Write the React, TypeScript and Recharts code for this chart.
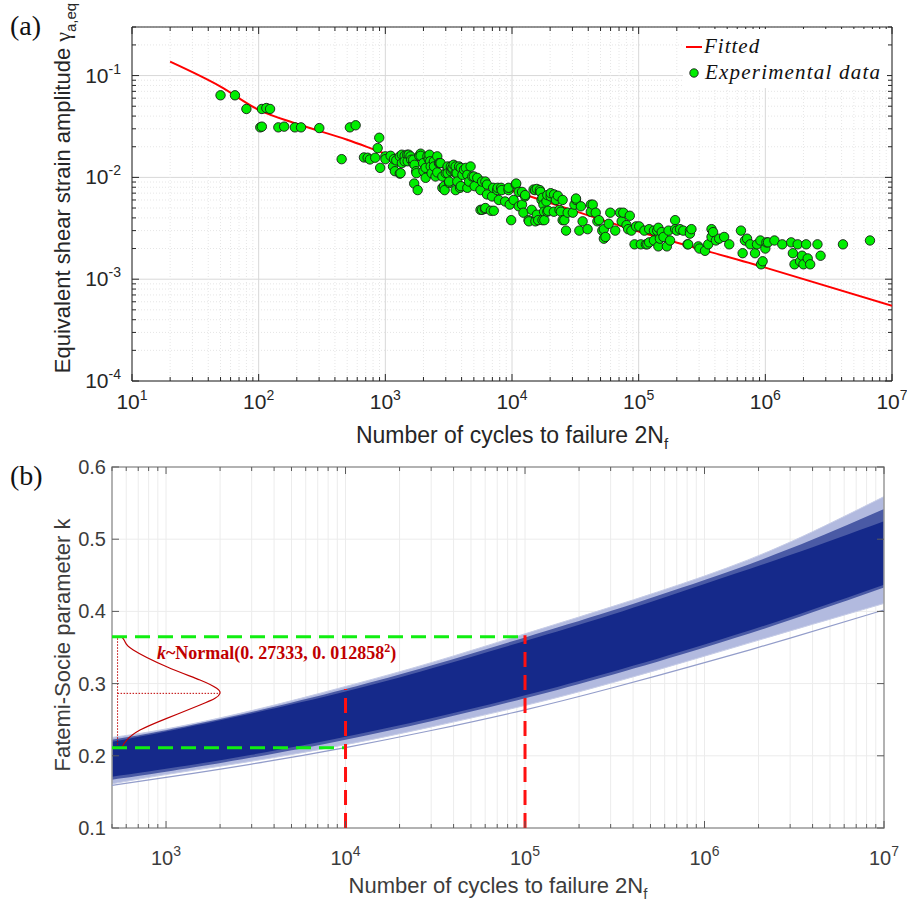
import React from "react";
import {
  ComposedChart, Scatter, Line, Area, XAxis, YAxis, CartesianGrid, ReferenceArea,
} from "recharts";

// ---------- panel (a): strain-life data ----------
const fittedN = [20, 50, 100, 200, 500, 1e3, 1e4, 1e5, 1e6, 1e7];
const fittedGamma = [0.137, 0.078, 0.0461, 0.0336, 0.0234, 0.0171, 0.0074, 0.00294, 0.0013, 0.000547];

// [2Nf, gamma_a,eq]
const experimental: [number, number][] = [
  [50, 0.064], [65, 0.064], [80, 0.047], [103, 0.031], [106, 0.0315], [106, 0.047], [115, 0.048], [123, 0.047],
  [143, 0.031], [159, 0.0315], [193, 0.031], [216, 0.031], [301, 0.0305], [452, 0.0151], [525, 0.031], [583, 0.0325],
  [678, 0.0157], [725, 0.0156], [756, 0.015], [832, 0.0156], [870, 0.0194], [895, 0.0245], [910, 0.0124],
  [1000, 0.0161], [1002, 0.0151], [1100, 0.0163], [1150, 0.0128], [1170, 0.0151], [1190, 0.0115], [1220, 0.0147],
  [1300, 0.0161], [1300, 0.0109], [1320, 0.011], [1350, 0.0138], [1350, 0.0167], [1420, 0.0163], [1420, 0.0144],
  [1490, 0.0167], [1500, 0.0144], [1530, 0.0167], [1580, 0.0161], [1600, 0.0149], [1660, 0.0138], [1660, 0.0149],
  [1690, 0.0087], [1700, 0.0133], [1750, 0.0115], [1760, 0.011], [1800, 0.0075], [1850, 0.0163], [1900, 0.0171],
  [1900, 0.0163], [1990, 0.0138], [2000, 0.0115], [2080, 0.0124], [2080, 0.0099], [2150, 0.0161], [2200, 0.0151],
  [2230, 0.0167], [2260, 0.0144], [2280, 0.0128], [2320, 0.011], [2420, 0.0144], [2420, 0.0128], [2490, 0.0102],
  [2570, 0.0161], [2570, 0.0112], [2650, 0.0138], [2690, 0.0138], [2730, 0.0138], [2820, 0.0102], [2820, 0.0079],
  [2910, 0.0082], [2940, 0.0075], [3000, 0.011], [3100, 0.0124], [3100, 0.0128], [3100, 0.011], [3190, 0.0088],
  [3190, 0.0091], [3290, 0.0115], [3290, 0.0128], [3390, 0.0119], [3390, 0.0124], [3460, 0.0133], [3590, 0.011],
  [3590, 0.0075], [3590, 0.0128], [3660, 0.011], [3700, 0.0091], [3820, 0.0128], [3890, 0.0079], [3940, 0.0082],
  [3940, 0.0124], [4060, 0.0106], [4180, 0.0119], [4320, 0.0124], [4440, 0.0079], [4440, 0.0106],
  [4580, 0.0091], [4710, 0.0128], [4860, 0.0102], [5000, 0.0102], [5070, 0.0082], [5320, 0.0099], [5640, 0.0075],
  [5640, 0.0048], [5800, 0.0091], [5810, 0.0048], [6100, 0.0049], [6160, 0.0091], [6160, 0.005], [6350, 0.0068],
  [6350, 0.0085], [6810, 0.0047], [6960, 0.0065], [7100, 0.0079], [7180, 0.0047], [7640, 0.0075], [7700, 0.0079],
  [7870, 0.006], [8200, 0.0079], [8300, 0.0075], [8820, 0.0058], [9390, 0.0075], [9400, 0.0079], [9600, 0.0054],
  [9850, 0.0038], [10300, 0.006], [10700, 0.0085], [10800, 0.0087], [11300, 0.0072], [11300, 0.0052], [12000, 0.0054],
  [12000, 0.0072], [12300, 0.0045], [12700, 0.0065], [12700, 0.0067], [13500, 0.0038], [13600, 0.0037], [14300, 0.0048],
  [14800, 0.0076], [15200, 0.0075], [15300, 0.0037], [15700, 0.0043], [15700, 0.0077], [16100, 0.0038], [16600, 0.0075],
  [16800, 0.0072], [17100, 0.006], [17400, 0.0063], [17400, 0.0038], [17700, 0.0054], [17900, 0.0046], [18000, 0.0038],
  [18700, 0.0058], [19000, 0.0067], [19000, 0.0046], [19300, 0.0047],
  [20200, 0.0065], [20200, 0.007], [21400, 0.0046], [21500, 0.0068], [22200, 0.006], [23000, 0.0066], [23700, 0.0048],
  [24300, 0.0046], [25100, 0.006], [25100, 0.0038], [25900, 0.0038], [26700, 0.003], [27500, 0.0045], [30200, 0.0045],
  [31100, 0.0054], [32000, 0.006], [32000, 0.0062], [34000, 0.003], [35000, 0.0052], [36100, 0.0037], [39500, 0.0031],
  [41900, 0.0054], [41900, 0.0046], [43400, 0.0054], [45800, 0.0045], [47200, 0.0037], [48600, 0.0038], [51600, 0.003],
  [53100, 0.0031], [53100, 0.0025], [54700, 0.0026], [58000, 0.0035], [59700, 0.0045], [65300, 0.003], [71300, 0.0045],
  [73400, 0.0037], [75600, 0.0045], [80200, 0.0034], [82600, 0.0031], [85100, 0.0042], [87600, 0.003], [92800, 0.0022],
  [95500, 0.0033],
  [101000, 0.0033], [104000, 0.0022], [111000, 0.003], [114000, 0.0022], [117000, 0.0022], [121000, 0.0031],
  [121000, 0.0023], [132000, 0.003], [132000, 0.0024], [140000, 0.003], [143000, 0.0021], [143000, 0.0032],
  [147000, 0.0025], [152000, 0.0029], [157000, 0.0026], [167000, 0.0021], [172000, 0.003], [177000, 0.0024],
  [194000, 0.0038], [194000, 0.0031], [200000, 0.003], [212000, 0.0031], [225000, 0.003], [243000, 0.0022],
  [246000, 0.0022], [254000, 0.003], [254000, 0.0028], [261000, 0.0031], [296000, 0.0021], [302000, 0.002],
  [334000, 0.0019], [354000, 0.0022], [376000, 0.0031], [376000, 0.0026], [387000, 0.0029], [407000, 0.0024],
  [432000, 0.0025], [473000, 0.0026], [519000, 0.0022], [642000, 0.003], [662000, 0.0018], [690000, 0.0024],
  [717000, 0.0025], [761000, 0.0022], [829000, 0.0018], [859000, 0.0022], [914000, 0.0024], [925000, 0.0014],
  [952000, 0.0015], [1000000, 0.002], [1020000, 0.0023], [1050000, 0.0023], [1180000, 0.0024], [1360000, 0.0022],
  [1600000, 0.0023], [1650000, 0.0018], [1700000, 0.0014], [1800000, 0.0022], [1880000, 0.0015], [1950000, 0.0017],
  [2000000, 0.0014], [2100000, 0.0022], [2160000, 0.0016], [2260000, 0.0014], [2580000, 0.0022], [2730000, 0.0017],
  [4100000, 0.0022], [6700000, 0.0024],
];

const aXMajors = [1e1, 1e2, 1e3, 1e4, 1e5, 1e6, 1e7];
const aYMajors = [1e-4, 1e-3, 1e-2, 1e-1];
const minorSteps = [2, 3, 4, 5, 6, 7, 8, 9];

// ---------- panel (b): simulated k curves ----------
const bandN = [500, 1e3, 3e3, 1e4, 3e4, 1e5, 3e5, 1e6, 3e6, 1e7];
const kUpperLight = [0.2254, 0.2372, 0.2626, 0.296, 0.329, 0.369, 0.406, 0.449, 0.496, 0.559];
const kUpperMid = [0.2224, 0.2355, 0.2606, 0.2925, 0.325, 0.364, 0.4005, 0.4435, 0.487, 0.542];
const kUpperDense = [0.2194, 0.2337, 0.2586, 0.289, 0.321, 0.359, 0.395, 0.438, 0.478, 0.525];
const kLowerDense = [0.171, 0.182, 0.2015, 0.2264, 0.252, 0.2837, 0.3156, 0.354, 0.392, 0.437];
const kLowerLight = [0.161, 0.174, 0.1925, 0.2154, 0.24, 0.2697, 0.3006, 0.338, 0.373, 0.411];
const kLowest = [0.159, 0.17, 0.1885, 0.2114, 0.235, 0.2637, 0.2936, 0.329, 0.363, 0.402];

const bXMajors = [1e2, 1e3, 1e4, 1e5, 1e6, 1e7];
const bYTicks = [0.1, 0.2, 0.3, 0.4, 0.5, 0.6];

// normal pdf sketch, [2Nf position, k]
const pdfCurve: [number, number][] = [
  [566, 0.365], [591, 0.358], [657, 0.3466], [1009, 0.3234], [1546, 0.305], [1915, 0.2935], [1998, 0.2865],
  [1875, 0.2796], [1546, 0.2703], [1009, 0.2519], [716, 0.2356], [604, 0.2217], [566, 0.2111],
];
const pdfStem: [number, number][] = [[537, 0.2111], [537, 0.365]];
const pdfPeak: [number, number][] = [[537, 0.2865], [1998, 0.2865]];
const greenUpper: [number, number][] = [[500, 0.365], [1e5, 0.365]];
const greenLower: [number, number][] = [[500, 0.211], [1e4, 0.211]];
const red1e4: [number, number][] = [[1e4, 0.1], [1e4, 0.2925]];
const red1e5: [number, number][] = [[1e5, 0.1], [1e5, 0.367]];

// ---------- helpers ----------
const SANS = "Liberation Sans, Arial, sans-serif";
const SERIF = "Liberation Serif, Times New Roman, serif";
const INK = "#262626";
const GRAY = "#3c3c3c";

const isPow10 = (v: number) => Math.abs(Math.log10(v) - Math.round(Math.log10(v))) < 1e-6;
const expOf = (v: number) => String(Math.round(Math.log10(v)));
const logTicks = (majors: number[], lo: number, hi: number) => {
  const out: number[] = [];
  majors.forEach((m) => {
    out.push(m);
    minorSteps.forEach((s) => out.push(m * s));
  });
  return out.filter((v) => v >= lo * 0.9999 && v <= hi * 1.0001);
};
const toRows = (pts: [number, number][], key: string) => pts.map(([n, v]) => ({ n, [key]: v }));

const aXTicks = logTicks(aXMajors, 10, 1e7);
const aYTicks = logTicks(aYMajors, 1e-4, 0.3);
const bXTicks = logTicks(bXMajors, 500, 1e7);

const expRows = toRows(experimental, "g");
const fittedRows = fittedN.map((n, i) => ({ n, g: fittedGamma[i] }));
const bandRows = bandN.map((n, i) => ({
  n,
  outer: [kLowerLight[i], kUpperLight[i]],
  mid: [kLowerDense[i] - 0.004, kUpperMid[i]],
  core: [kLowerDense[i], kUpperDense[i]],
  lowest: kLowest[i],
}));

// plot boxes in chart coordinates
const A = { left: 132, right: 892, top: 27, bottom: 381 };
const B = { left: 112, right: 884, top: 27, bottom: 388 };

function AXTick(p: any) {
  const v = p.payload.value;
  const major = isPow10(v);
  const len = major ? 7 : 4;
  return (
    <g>
      <line x1={p.x} x2={p.x} y1={A.bottom} y2={A.bottom - len} stroke={INK} />
      <line x1={p.x} x2={p.x} y1={A.top} y2={A.top + len} stroke={INK} />
      {major && (
        <text x={p.x} y={A.bottom + 28} textAnchor="middle" fontSize={21} fill={INK} fontFamily={SANS}>
          10<tspan dy={-9} fontSize={14}>{expOf(v)}</tspan>
        </text>
      )}
    </g>
  );
}

function AYTick(p: any) {
  const v = p.payload.value;
  const major = isPow10(v);
  const len = major ? 7 : 4;
  return (
    <g>
      <line x1={A.left} x2={A.left + len} y1={p.y} y2={p.y} stroke={INK} />
      <line x1={A.right} x2={A.right - len} y1={p.y} y2={p.y} stroke={INK} />
      {major && (
        <text x={A.left - 11} y={p.y + 7} textAnchor="end" fontSize={21} fill={INK} fontFamily={SANS}>
          10<tspan dy={-9} fontSize={14}>{expOf(v)}</tspan>
        </text>
      )}
    </g>
  );
}

function aGridV(p: any) {
  const lv = 1 + ((p.x1 - A.left) / (A.right - A.left)) * 6;
  const major = Math.abs(lv - Math.round(lv)) < 0.01;
  return (
    <line key={p.key} x1={p.x1} x2={p.x2} y1={p.y1} y2={p.y2}
      stroke={major ? "#d8d8d8" : "#e6e6e6"} strokeDasharray={major ? undefined : "1 2"} />
  );
}

function aGridH(p: any) {
  const top = Math.log10(0.3);
  const lv = top - ((p.y1 - A.top) / (A.bottom - A.top)) * (top + 4);
  const major = Math.abs(lv - Math.round(lv)) < 0.01;
  return (
    <line key={p.key} x1={p.x1} x2={p.x2} y1={p.y1} y2={p.y2}
      stroke={major ? "#d8d8d8" : "#e6e6e6"} strokeDasharray={major ? undefined : "1 2"} />
  );
}

function BXTick(p: any) {
  const v = p.payload.value;
  const major = isPow10(v);
  const len = major ? 7 : 4;
  return (
    <g>
      <line x1={p.x} x2={p.x} y1={B.bottom} y2={B.bottom - len} stroke="#5a5a5a" />
      <line x1={p.x} x2={p.x} y1={B.top} y2={B.top + len} stroke="#5a5a5a" />
      {major && (
        <text x={p.x} y={B.bottom + 37} textAnchor="middle" fontSize={20} fill={GRAY} fontFamily={SANS}>
          10<tspan dy={-9} fontSize={14}>{expOf(v)}</tspan>
        </text>
      )}
    </g>
  );
}

function BYTick(p: any) {
  const v = p.payload.value;
  return (
    <g>
      <line x1={B.left} x2={B.left + 7} y1={p.y} y2={p.y} stroke="#5a5a5a" />
      <line x1={B.right} x2={B.right - 7} y1={p.y} y2={p.y} stroke="#5a5a5a" />
      <text x={B.left - 6} y={p.y + 7} textAnchor="end" fontSize={20} fill={GRAY} fontFamily={SANS}>
        {v.toFixed(1)}
      </text>
    </g>
  );
}

function ExpDot(p: any) {
  return <circle cx={p.cx} cy={p.cy} r={4.7} fill="#00ee00" stroke="#1a1a1a" strokeWidth={0.9} />;
}

function PanelA() {
  return (
    <ComposedChart width={907} height={440} margin={{ top: 27, right: 15, bottom: 0, left: 0 }}>
      <CartesianGrid horizontal={aGridH} vertical={aGridV} />
      <XAxis dataKey="n" type="number" scale="log" domain={[10, 1e7]} allowDataOverflow ticks={aXTicks}
        interval={0} height={59} axisLine={false} tickLine={false} tickSize={0} tickMargin={0} tick={AXTick} />
      <YAxis dataKey="g" type="number" scale="log" domain={[1e-4, 0.3]} allowDataOverflow ticks={aYTicks}
        interval={0} width={132} axisLine={false} tickLine={false} tickSize={0} tickMargin={0} tick={AYTick} />
      <ReferenceArea x1={10} x2={1e7} y1={1e-4} y2={0.3} fill="none" stroke={INK} strokeWidth={1} ifOverflow="visible" />
      <Line data={fittedRows} dataKey="g" type="monotone" stroke="#ff0000" strokeWidth={2}
        dot={false} activeDot={false} isAnimationActive={false} />
      <Scatter data={expRows} dataKey="g" shape={ExpDot} isAnimationActive={false} />
    </ComposedChart>
  );
}

function PanelB() {
  const dashLine = (pts: [number, number][], color: string, dash: string, w: number, key: string) => (
    <Line key={key} data={toRows(pts, "k")} dataKey="k" type="linear" stroke={color} strokeWidth={w}
      strokeDasharray={dash} dot={false} activeDot={false} isAnimationActive={false} />
  );
  return (
    <ComposedChart width={907} height={461} margin={{ top: 27, right: 23, bottom: 0, left: 0 }}>
      <CartesianGrid stroke="#ececec" />
      <XAxis dataKey="n" type="number" scale="log" domain={[500, 1e7]} allowDataOverflow ticks={bXTicks}
        interval={0} height={73} axisLine={false} tickLine={false} tickSize={0} tickMargin={0} tick={BXTick} />
      <YAxis type="number" domain={[0.1, 0.6]} allowDataOverflow ticks={bYTicks} interval={0} width={112}
        axisLine={false} tickLine={false} tickSize={0} tickMargin={0} tick={BYTick} />
      <Area data={bandRows} dataKey="outer" type="natural" fill="#b2badf" fillOpacity={1} stroke="#c6cce7"
        strokeWidth={1} isAnimationActive={false} />
      <Area data={bandRows} dataKey="mid" type="natural" fill="#4a5aa5" fillOpacity={1} stroke="none"
        isAnimationActive={false} />
      <Area data={bandRows} dataKey="core" type="natural" fill="#15298a" fillOpacity={1} stroke="none"
        isAnimationActive={false} />
      <Line data={bandRows} dataKey="lowest" type="natural" stroke="#939dca" strokeWidth={1.2}
        dot={false} activeDot={false} isAnimationActive={false} />
      <Line data={toRows(pdfCurve, "k")} dataKey="k" type="natural" stroke="#c00000" strokeWidth={1.2}
        dot={false} activeDot={false} isAnimationActive={false} />
      {dashLine(pdfStem, "#c00000", "1.5 1.5", 1, "stem")}
      {dashLine(pdfPeak, "#c00000", "1.5 1.5", 1, "peak")}
      {dashLine(greenUpper, "#11ee11", "15 8", 3, "gu")}
      {dashLine(greenLower, "#11ee11", "15 8", 3, "gl")}
      {dashLine(red1e4, "#ff1010", "15 8", 3, "r4")}
      {dashLine(red1e5, "#ff1010", "15 8", 3, "r5")}
      <ReferenceArea x1={500} x2={1e7} y1={0.1} y2={0.6} fill="none" stroke="#9c9c9c" strokeWidth={1.5} ifOverflow="visible" />
    </ComposedChart>
  );
}

function Overlay() {
  return (
    <svg width={907} height={901} style={{ position: "absolute", left: 0, top: 0, pointerEvents: "none" }}>
      <text x={10} y={35} fontSize={28} fontFamily={SERIF} fill="#111">(a)</text>
      <text x={10} y={485} fontSize={28} fontFamily={SERIF} fill="#111">(b)</text>

      {/* panel (a) titles */}
      <text x={512} y={443} textAnchor="middle" fontSize={23} fontFamily={SANS} fill={INK}>
        Number of cycles to failure 2N<tspan dy={6} fontSize={15}>f</tspan>
      </text>
      <text x={70} y={188} transform="rotate(-90 70 188)" textAnchor="middle" fontSize={22} fontFamily={SANS} fill={INK}>
        Equivalent shear strain amplitude <tspan fontFamily={SERIF}>γ</tspan>
        <tspan dy={6} fontSize={15}>a,eq</tspan>
      </text>

      {/* legend */}
      <rect x={683} y={29} width={204} height={59} fill="#ffffff" />
      <line x1={686} x2={702} y1={47} y2={47} stroke="#ff0000" strokeWidth={2} />
      <text x={704} y={53} fontSize={21} fontStyle="italic" fontFamily={SERIF} letterSpacing={1} fill="#111">Fitted</text>
      <circle cx={694} cy={73} r={4.2} fill="#00ee00" stroke="#1a1a1a" strokeWidth={0.9} />
      <text x={705} y={79} fontSize={21} fontStyle="italic" fontFamily={SERIF} letterSpacing={1.2} fill="#111">
        Experimental data
      </text>

      {/* panel (b) titles */}
      <text x={498} y={893} textAnchor="middle" fontSize={22} fontFamily={SANS} fill={GRAY}>
        Number of cycles to failure 2N<tspan dy={6} fontSize={15}>f</tspan>
      </text>
      <text x={70} y={645} transform="rotate(-90 70 645)" textAnchor="middle" fontSize={22} fontFamily={SANS} fill={GRAY}>
        Fatemi-Socie parameter k
      </text>

      {/* distribution annotation */}
      <text x={157} y={659} fontSize={18} fontWeight="bold" fontFamily={SERIF} fill="#c00000">
        <tspan fontStyle="italic">k</tspan>~Normal(0. 27333, 0. 012858<tspan dy={-7} fontSize={12}>2</tspan>
        <tspan dy={7}>)</tspan>
      </text>
    </svg>
  );
}

export default function App() {
  return (
    <div style={{ position: "absolute", left: 0, top: 0, width: 907, height: 901, background: "#ffffff", overflow: "hidden" }}>
      <div style={{ position: "absolute", left: 0, top: 0 }}>
        <PanelA />
      </div>
      <div style={{ position: "absolute", left: 0, top: 440 }}>
        <PanelB />
      </div>
      <Overlay />
    </div>
  );
}
